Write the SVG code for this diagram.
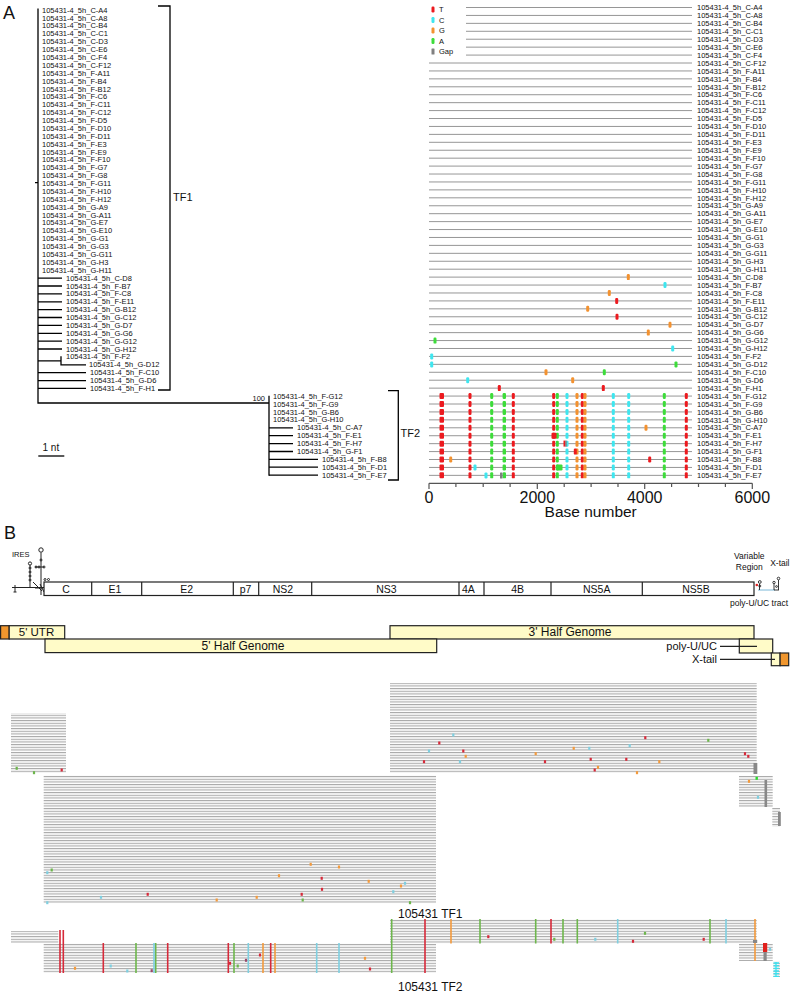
<svg xmlns="http://www.w3.org/2000/svg" width="790" height="994" viewBox="0 0 790 994">
<style>
text{font-family:"Liberation Sans",Arial,sans-serif;fill:#111}
.l{font-size:7.5px}
.g{font-size:10.5px}
.big{font-size:18px}
.tr{stroke:#000;stroke-width:1.3;fill:none}
.al{stroke:#8a8a8a;stroke-width:0.9;fill:none}
.R{fill:#ec1a1f}.C{fill:#3fe6ef}.O{fill:#f39230}.G{fill:#3ddc3a}.Y{fill:#808080}
.r{fill:#d62a3a}.c{fill:#7fcfe0}.o{fill:#f39a3c}.gg{fill:#6db64c}.y{fill:#888}.p{fill:#9a4a6a}
.vr{stroke:#d62a3a;stroke-width:1.6}.vc{stroke:#7fcfe0;stroke-width:1.6}.vo{stroke:#f39a3c;stroke-width:1.6}.vg{stroke:#6db64c;stroke-width:1.6}
.box{stroke:#222;stroke-width:1.2}
</style>
<defs>
<pattern id="rl" width="8" height="2.667" patternUnits="userSpaceOnUse"><rect width="8" height="1.1" fill="#a8a8a8"/></pattern>
<g id="tf2m">
<rect class="R" x="439.5" y="-3" width="4.5" height="6" rx="1"/>
<rect class="R" x="468.5" y="-3" width="3" height="6" rx="1.2"/>
<rect class="G" x="490.2" y="-3" width="3" height="6" rx="1.2"/>
<rect class="G" x="502.6" y="-3" width="3.4" height="6" rx="1.2"/>
<rect class="R" x="511.8" y="-3" width="3" height="6" rx="1.2"/>
<rect class="R" x="552.2" y="-3" width="3" height="6" rx="1.2"/>
<rect class="G" x="555.8" y="-3" width="3" height="6" rx="1.2"/>
<rect class="C" x="565.5" y="-3" width="3" height="6" rx="1.2"/>
<rect class="O" x="575.5" y="-3" width="3" height="6" rx="1.2"/>
<rect class="R" x="580.8" y="-3" width="3" height="6" rx="1.2"/>
<rect class="O" x="583.5" y="-3" width="3" height="6" rx="1.2"/>
<rect class="C" x="611.8" y="-3" width="3" height="6" rx="1.2"/>
<rect class="C" x="627.2" y="-3" width="3" height="6" rx="1.2"/>
<rect class="G" x="662.8" y="-3" width="3" height="6" rx="1.2"/>
<rect class="R" x="684.8" y="-3" width="3" height="6" rx="1.2"/>
</g>
</defs>
<rect width="790" height="994" fill="#fff"/>

<text class="big" x="3" y="19">A</text>

<!-- Tree -->
<g id="tree-connectors" class="tr">
<path d="M38 8.5V403.6M37.4 403H269.6M269 395.7V475.7M35 182.7H38"/>
<path d="M38 278.1H62M38 286H62M38 293.9H62M38 301.8H62M38 309.6H62M38 317.5H62M38 325.4H62M38 333.3H62M38 341.2H62M38 349H62"/>
<path d="M38 360.8H61M61 356.3V365.4M61 364.8H86M38 372.7H86M38 380.6H86M38 388.4H86"/>
<path d="M269 427.8H293M269 435.7H293M269 443.6H293M269 451.5H293M269 459.4H318M269 467.2H318M269 475.1H318"/>
</g>
<g id="tf1-bracket" class="tr"><path d="M158 6H170V390H158"/></g>
<g id="tf2-bracket" class="tr"><path d="M388 390.7H398.3V480H388"/></g>
<text x="173" y="200.6" style="font-size:11px">TF1</text>
<text x="400.5" y="437" style="font-size:11px">TF2</text>
<text class="l" x="265" y="401" text-anchor="end">100</text>
<g id="scale"><path class="tr" d="M38.3 456H64.3"/><text x="42.5" y="451" style="font-size:10px">1 nt</text></g>

<g id="tree-labels" class="l">
<text x="42" y="12.7">105431-4_5h_C-A4</text>
<text x="42" y="20.58">105431-4_5h_C-A8</text>
<text x="42" y="28.46">105431-4_5h_C-B4</text>
<text x="42" y="36.34">105431-4_5h_C-C1</text>
<text x="42" y="44.22">105431-4_5h_C-D3</text>
<text x="42" y="52.1">105431-4_5h_C-E6</text>
<text x="42" y="59.98">105431-4_5h_C-F4</text>
<text x="42" y="67.86">105431-4_5h_C-F12</text>
<text x="42" y="75.74">105431-4_5h_F-A11</text>
<text x="42" y="83.62">105431-4_5h_F-B4</text>
<text x="42" y="91.5">105431-4_5h_F-B12</text>
<text x="42" y="99.38">105431-4_5h_F-C6</text>
<text x="42" y="107.26">105431-4_5h_F-C11</text>
<text x="42" y="115.14">105431-4_5h_F-C12</text>
<text x="42" y="123.02">105431-4_5h_F-D5</text>
<text x="42" y="130.9">105431-4_5h_F-D10</text>
<text x="42" y="138.78">105431-4_5h_F-D11</text>
<text x="42" y="146.66">105431-4_5h_F-E3</text>
<text x="42" y="154.54">105431-4_5h_F-E9</text>
<text x="42" y="162.42">105431-4_5h_F-F10</text>
<text x="42" y="170.3">105431-4_5h_F-G7</text>
<text x="42" y="178.18">105431-4_5h_F-G8</text>
<text x="42" y="186.06">105431-4_5h_F-G11</text>
<text x="42" y="193.94">105431-4_5h_F-H10</text>
<text x="42" y="201.82">105431-4_5h_F-H12</text>
<text x="42" y="209.7">105431-4_5h_G-A9</text>
<text x="42" y="217.58">105431-4_5h_G-A11</text>
<text x="42" y="225.46">105431-4_5h_G-E7</text>
<text x="42" y="233.34">105431-4_5h_G-E10</text>
<text x="42" y="241.22">105431-4_5h_G-G1</text>
<text x="42" y="249.1">105431-4_5h_G-G3</text>
<text x="42" y="256.98">105431-4_5h_G-G11</text>
<text x="42" y="264.86">105431-4_5h_G-H3</text>
<text x="42" y="272.74">105431-4_5h_G-H11</text>
<text x="66" y="280.62">105431-4_5h_C-D8</text>
<text x="66" y="288.5">105431-4_5h_F-B7</text>
<text x="66" y="296.38">105431-4_5h_F-C8</text>
<text x="66" y="304.26">105431-4_5h_F-E11</text>
<text x="66" y="312.14">105431-4_5h_G-B12</text>
<text x="66" y="320.02">105431-4_5h_G-C12</text>
<text x="66" y="327.9">105431-4_5h_G-D7</text>
<text x="66" y="335.78">105431-4_5h_G-G6</text>
<text x="66" y="343.66">105431-4_5h_G-G12</text>
<text x="66" y="351.54">105431-4_5h_G-H12</text>
<text x="66" y="359.42">105431-4_5h_F-F2</text>
<text x="89" y="367.3">105431-4_5h_G-D12</text>
<text x="90" y="375.18">105431-4_5h_F-C10</text>
<text x="90" y="383.06">105431-4_5h_G-D6</text>
<text x="90" y="390.94">105431-4_5h_F-H1</text>
<text x="273" y="398.82">105431-4_5h_F-G12</text>
<text x="273" y="406.7">105431-4_5h_F-G9</text>
<text x="273" y="414.58">105431-4_5h_G-B6</text>
<text x="273" y="422.46">105431-4_5h_G-H10</text>
<text x="297" y="430.34">105431-4_5h_C-A7</text>
<text x="297" y="438.22">105431-4_5h_F-E1</text>
<text x="297" y="446.1">105431-4_5h_F-H7</text>
<text x="297" y="453.98">105431-4_5h_G-F1</text>
<text x="322" y="461.86">105431-4_5h_F-B8</text>
<text x="322" y="469.74">105431-4_5h_F-D1</text>
<text x="322" y="477.62">105431-4_5h_F-E7</text>
</g>

<!-- Alignment plot -->
<g id="align-lines" class="al">
<path d="M429 7.5H692M429 15.43H692M429 23.36H692M429 31.29H692M429 39.22H692M429 47.15H692M429 55.08H692M429 63.01H692M429 70.94H692M429 78.87H692M429 86.8H692M429 94.73H692M429 102.66H692M429 110.59H692M429 118.52H692M429 126.45H692M429 134.38H692M429 142.31H692M429 150.24H692M429 158.17H692M429 166.1H692M429 174.03H692M429 181.96H692M429 189.89H692M429 197.82H692M429 205.75H692M429 213.68H692M429 221.61H692M429 229.54H692M429 237.47H692M429 245.4H692M429 253.33H692M429 261.26H692M429 269.19H692M429 277.12H692M429 285.05H692M429 292.98H692M429 300.91H692M429 308.84H692M429 316.77H692M429 324.7H692M429 332.63H692M429 340.56H692M429 348.49H692M429 356.42H692M429 364.35H692M429 372.28H692M429 380.21H692M429 388.14H692M429 396.07H692M429 404H692M429 411.93H692M429 419.86H692M429 427.79H692M429 435.72H692M429 443.65H692M429 451.58H692M429 459.51H692M429 467.44H692M429 475.37H692"/>
</g>
<g id="legend">
<rect x="428" y="2" width="38" height="55" fill="#fff"/>
<rect class="R" x="431.5" y="6.5" width="3" height="6" rx="1.2"/><text class="l" x="439" y="12">T</text>
<rect class="C" x="431.5" y="17" width="3" height="6" rx="1.2"/><text class="l" x="439" y="22.5">C</text>
<rect class="O" x="431.5" y="27.5" width="3" height="6" rx="1.2"/><text class="l" x="439" y="33">G</text>
<rect class="G" x="431.5" y="38" width="3" height="6" rx="1.2"/><text class="l" x="439" y="43.5">A</text>
<rect class="Y" x="431.5" y="48.5" width="3" height="6" rx="0.5"/><text class="l" x="439" y="54">Gap</text>
</g>
<g id="align-markers">
<rect class="O" x="626.8" y="274.1" width="3" height="6" rx="1.2"/>
<rect class="C" x="663.5" y="282" width="3" height="6" rx="1.2"/>
<rect class="O" x="607.8" y="290" width="3" height="6" rx="1.2"/>
<rect class="R" x="615.2" y="297.9" width="3" height="6" rx="1.2"/>
<rect class="O" x="586.2" y="305.8" width="3" height="6" rx="1.2"/>
<rect class="R" x="615.5" y="313.8" width="3" height="6" rx="1.2"/>
<rect class="O" x="668.5" y="321.7" width="3" height="6" rx="1.2"/>
<rect class="O" x="646.8" y="329.6" width="3" height="6" rx="1.2"/>
<rect class="G" x="433.5" y="337.6" width="3" height="6" rx="1.2"/>
<rect class="C" x="671.2" y="345.5" width="3" height="6" rx="1.2"/>
<rect class="C" x="430.2" y="353.4" width="3" height="6" rx="1.2"/>
<rect class="C" x="430.2" y="361.4" width="3" height="6" rx="1.2"/>
<rect class="G" x="674.5" y="361.4" width="3" height="6" rx="1.2"/>
<rect class="O" x="544.5" y="369.3" width="3" height="6" rx="1.2"/>
<rect class="G" x="602.8" y="369.3" width="3" height="6" rx="1.2"/>
<rect class="C" x="466.2" y="377.2" width="3" height="6" rx="1.2"/>
<rect class="O" x="571.2" y="377.2" width="3" height="6" rx="1.2"/>
<rect class="R" x="497.8" y="385.1" width="3" height="6" rx="1.2"/>
<rect class="R" x="601.8" y="385.1" width="3" height="6" rx="1.2"/>
<use href="#tf2m" y="396.07"/>
<use href="#tf2m" y="404"/>
<use href="#tf2m" y="411.93"/>
<use href="#tf2m" y="419.86"/>
<use href="#tf2m" y="427.79"/>
<use href="#tf2m" y="435.72"/>
<use href="#tf2m" y="443.65"/>
<use href="#tf2m" y="451.58"/>
<use href="#tf2m" y="459.51"/>
<use href="#tf2m" y="467.44"/>
<use href="#tf2m" y="475.37"/>
<rect class="O" x="644.5" y="424.8" width="3" height="6" rx="1.2"/>
<rect class="R" x="551.5" y="432.7" width="5" height="6" rx="1"/>
<rect class="R" x="563.5" y="440.6" width="2" height="6"/>
<rect class="Y" x="565.3" y="440.6" width="1.4" height="6"/>
<rect class="R" x="573.8" y="448.6" width="3" height="6" rx="1.2"/>
<rect class="O" x="449.2" y="456.5" width="3" height="6" rx="1.2"/>
<rect class="R" x="648.2" y="456.5" width="3" height="6" rx="1.2"/>
<rect class="C" x="473.5" y="464.4" width="3" height="6" rx="1.2"/>
<rect class="G" x="556.5" y="464.4" width="6" height="6" rx="1.2"/>
<rect class="C" x="484.5" y="472.4" width="3" height="6" rx="1.2"/>
<rect class="Y" x="500" y="472.4" width="2.5" height="6" rx="0.5"/>
</g>
<g id="align-labels" class="l">
<text x="697" y="10.2">105431-4_5h_C-A4</text>
<text x="697" y="18.13">105431-4_5h_C-A8</text>
<text x="697" y="26.06">105431-4_5h_C-B4</text>
<text x="697" y="33.99">105431-4_5h_C-C1</text>
<text x="697" y="41.92">105431-4_5h_C-D3</text>
<text x="697" y="49.85">105431-4_5h_C-E6</text>
<text x="697" y="57.78">105431-4_5h_C-F4</text>
<text x="697" y="65.71">105431-4_5h_C-F12</text>
<text x="697" y="73.64">105431-4_5h_F-A11</text>
<text x="697" y="81.57">105431-4_5h_F-B4</text>
<text x="697" y="89.5">105431-4_5h_F-B12</text>
<text x="697" y="97.43">105431-4_5h_F-C6</text>
<text x="697" y="105.36">105431-4_5h_F-C11</text>
<text x="697" y="113.29">105431-4_5h_F-C12</text>
<text x="697" y="121.22">105431-4_5h_F-D5</text>
<text x="697" y="129.15">105431-4_5h_F-D10</text>
<text x="697" y="137.08">105431-4_5h_F-D11</text>
<text x="697" y="145.01">105431-4_5h_F-E3</text>
<text x="697" y="152.94">105431-4_5h_F-E9</text>
<text x="697" y="160.87">105431-4_5h_F-F10</text>
<text x="697" y="168.8">105431-4_5h_F-G7</text>
<text x="697" y="176.73">105431-4_5h_F-G8</text>
<text x="697" y="184.66">105431-4_5h_F-G11</text>
<text x="697" y="192.59">105431-4_5h_F-H10</text>
<text x="697" y="200.52">105431-4_5h_F-H12</text>
<text x="697" y="208.45">105431-4_5h_G-A9</text>
<text x="697" y="216.38">105431-4_5h_G-A11</text>
<text x="697" y="224.31">105431-4_5h_G-E7</text>
<text x="697" y="232.24">105431-4_5h_G-E10</text>
<text x="697" y="240.17">105431-4_5h_G-G1</text>
<text x="697" y="248.1">105431-4_5h_G-G3</text>
<text x="697" y="256.03">105431-4_5h_G-G11</text>
<text x="697" y="263.96">105431-4_5h_G-H3</text>
<text x="697" y="271.89">105431-4_5h_G-H11</text>
<text x="697" y="279.82">105431-4_5h_C-D8</text>
<text x="697" y="287.75">105431-4_5h_F-B7</text>
<text x="697" y="295.68">105431-4_5h_F-C8</text>
<text x="697" y="303.61">105431-4_5h_F-E11</text>
<text x="697" y="311.54">105431-4_5h_G-B12</text>
<text x="697" y="319.47">105431-4_5h_G-C12</text>
<text x="697" y="327.4">105431-4_5h_G-D7</text>
<text x="697" y="335.33">105431-4_5h_G-G6</text>
<text x="697" y="343.26">105431-4_5h_G-G12</text>
<text x="697" y="351.19">105431-4_5h_G-H12</text>
<text x="697" y="359.12">105431-4_5h_F-F2</text>
<text x="697" y="367.05">105431-4_5h_G-D12</text>
<text x="697" y="374.98">105431-4_5h_F-C10</text>
<text x="697" y="382.91">105431-4_5h_G-D6</text>
<text x="697" y="390.84">105431-4_5h_F-H1</text>
<text x="697" y="398.77">105431-4_5h_F-G12</text>
<text x="697" y="406.7">105431-4_5h_F-G9</text>
<text x="697" y="414.63">105431-4_5h_G-B6</text>
<text x="697" y="422.56">105431-4_5h_G-H10</text>
<text x="697" y="430.49">105431-4_5h_C-A7</text>
<text x="697" y="438.42">105431-4_5h_F-E1</text>
<text x="697" y="446.35">105431-4_5h_F-H7</text>
<text x="697" y="454.28">105431-4_5h_G-F1</text>
<text x="697" y="462.21">105431-4_5h_F-B8</text>
<text x="697" y="470.14">105431-4_5h_F-D1</text>
<text x="697" y="478.07">105431-4_5h_F-E7</text>
</g>
<g id="axis">
<path stroke="#555" stroke-width="1.2" fill="none" d="M429 483.3H752.3M429 483.3V489M537.3 483.3V489M644.7 483.3V489M752.3 483.3V489M455.9 483.3V487M483.2 483.3V487M510.1 483.3V487M564.2 483.3V487M591.1 483.3V487M618 483.3V487M671.6 483.3V487M698.5 483.3V487M725.4 483.3V487"/>
<text x="429" y="502.5" text-anchor="middle" style="font-size:16px">0</text>
<text x="537.3" y="502.5" text-anchor="middle" style="font-size:16px">2000</text>
<text x="644.7" y="502.5" text-anchor="middle" style="font-size:16px">4000</text>
<text x="752.3" y="502.5" text-anchor="middle" style="font-size:16px">6000</text>
<text x="590.7" y="517" text-anchor="middle" style="font-size:15.5px">Base number</text>
</g>

<!-- Part B -->
<text class="big" x="4" y="539">B</text>
<g id="ires" stroke="#222" stroke-width="1" fill="none">
<path d="M12 587.5H44M15 585V592M13.5 592H16.5M30 565V587.5M41 552.5V595M35 567H44M33 582L42 591M35 588H43M40 584L44 592"/>
<circle cx="30" cy="563.5" r="1.6"/><circle cx="30" cy="568" r="1"/><circle cx="30" cy="572" r="1"/><circle cx="30" cy="576" r="1"/><circle cx="30" cy="580" r="1"/>
<circle cx="41" cy="550" r="2.2"/><circle cx="36" cy="567" r="1"/><circle cx="39" cy="567" r="1"/><circle cx="44" cy="567" r="1"/><circle cx="41" cy="560" r="1"/>
<circle cx="45" cy="579.5" r="1"/><circle cx="48.5" cy="579.5" r="1"/>
</g>
<text x="12" y="557" style="font-size:7.5px">IRES</text>
<g id="genome">
<rect x="44" y="582" width="710" height="13.5" fill="#fff" class="box"/>
<path class="box" d="M91.7 582V595.5M141.7 582V595.5M233.3 582V595.5M258.7 582V595.5M311.7 582V595.5M459 582V595.5M484 582V595.5M551 582V595.5M642.3 582V595.5"/>
<g class="g" text-anchor="middle">
<text x="66" y="592.8">C</text><text x="115" y="592.8">E1</text><text x="186.7" y="592.8">E2</text><text x="245.5" y="592.8">p7</text><text x="283" y="592.8">NS2</text><text x="386.5" y="592.8">NS3</text><text x="468.3" y="592.8">4A</text><text x="517.7" y="592.8">4B</text><text x="596.7" y="592.8">NS5A</text><text x="696" y="592.8">NS5B</text>
</g>
</g>
<g id="end3">
<path d="M758 590H775" stroke="#7ab8d8" stroke-width="1"/>
<circle cx="756.8" cy="585" r="1.3" fill="#d22"/>
<g stroke="#222" stroke-width="0.9" fill="none">
<path d="M759.5 590V584M774 590V584M778.5 590V580M774 590H779"/>
<circle cx="759.8" cy="582" r="1.4"/><circle cx="759.8" cy="586" r="1"/><circle cx="774" cy="582.5" r="1.2"/><circle cx="778.5" cy="578.5" r="1.3"/><circle cx="776.5" cy="586.5" r="0.9"/>
</g>
</g>
<g style="font-size:8.5px" text-anchor="middle">
<text x="749.3" y="559">Variable</text>
<text x="749.3" y="569.8">Region</text>
<text x="789.5" y="565.5" text-anchor="end">X-tail</text>
<text x="759" y="606.3">poly-U/UC tract</text>
</g>

<g id="segments">
<rect x="0.6" y="625.7" width="8.6" height="13.3" fill="#f0962e" class="box"/>
<g id="seg-5utr"><rect x="9.2" y="625.7" width="55.5" height="13.3" fill="#fffbc8" class="box"/><text x="36.5" y="636.3" text-anchor="middle" style="font-size:11.5px">5' UTR</text></g>
<g id="seg-3half"><rect x="390" y="625.7" width="364" height="13.3" fill="#fffbc8" class="box"/><text x="570" y="636.3" text-anchor="middle" style="font-size:12px">3' Half Genome</text></g>
<g id="seg-5half"><rect x="45" y="639" width="391.7" height="13.6" fill="#fffbc8" class="box"/><text x="243" y="650.3" text-anchor="middle" style="font-size:12px">5' Half Genome</text></g>
<g id="seg-polyu"><rect x="739.3" y="639" width="33.4" height="14" fill="#fffbc8" class="box"/><path d="M720 646.3H757" stroke="#222" stroke-width="1.2"/><text x="717" y="650.3" text-anchor="end" style="font-size:11px">poly-U/UC</text></g>
<g id="seg-xtail"><rect x="771.3" y="653" width="8.8" height="12.7" fill="#fffbc8" class="box"/><rect x="780.1" y="653" width="8.6" height="12.7" fill="#f0962e" class="box"/><path d="M720 659.3H775" stroke="#222" stroke-width="1.2"/><text x="717" y="663.2" text-anchor="end" style="font-size:11px">X-tail</text></g>
</g>

<g id="reads-tf1" fill="url(#rl)">
<rect x="11" y="713" width="55" height="60"/>
<rect x="43.7" y="775" width="392.3" height="128.3"/>
<rect x="390" y="683" width="366.7" height="90"/>
<rect x="739" y="776" width="33.7" height="31"/>
<rect x="772.3" y="808" width="7.7" height="18.7"/>
</g>
<g id="marks-tf1">
<rect class="gg" x="15.6" y="766.8" width="2.2" height="3"/>
<rect class="gg" x="32.9" y="771.2" width="2.2" height="3"/>
<rect class="r" x="60.6" y="768.5" width="2.2" height="3"/>
<rect class="c" x="46.2" y="871.2" width="2.2" height="3"/>
<rect class="gg" x="50.6" y="868.5" width="2.2" height="3"/>
<rect class="o" x="309.6" y="862.8" width="2.2" height="3"/>
<rect class="o" x="337.9" y="865.5" width="2.2" height="3"/>
<rect class="o" x="277.9" y="874.2" width="2.2" height="3"/>
<rect class="r" x="320.6" y="876.8" width="2.2" height="3"/>
<rect class="o" x="367.6" y="879.8" width="2.2" height="3"/>
<rect class="r" x="320.9" y="887.8" width="2.2" height="3"/>
<rect class="c" x="392.2" y="890.2" width="2.2" height="3"/>
<rect class="o" x="399.9" y="884.5" width="2.2" height="3"/>
<rect class="c" x="403.9" y="881.8" width="2.2" height="3"/>
<rect class="r" x="146.6" y="892.8" width="2.2" height="3"/>
<rect class="r" x="300.6" y="892.8" width="2.2" height="3"/>
<rect class="c" x="99.9" y="895.8" width="2.2" height="3"/>
<rect class="o" x="255.6" y="895.8" width="2.2" height="3"/>
<rect class="o" x="215.6" y="898.5" width="2.2" height="3"/>
<rect class="gg" x="301.6" y="898.5" width="2.2" height="3"/>
<rect class="c" x="46.2" y="901.2" width="2.2" height="3"/>
<rect class="gg" x="408.9" y="901.2" width="2.2" height="3"/>
<rect class="c" x="452.2" y="733.5" width="2.2" height="3"/>
<rect class="r" x="644.2" y="736.2" width="2.2" height="3"/>
<rect class="gg" x="707.2" y="738.8" width="2.2" height="3"/>
<rect class="r" x="438.2" y="741.5" width="2.2" height="3"/>
<rect class="c" x="628.6" y="744.2" width="2.2" height="3"/>
<rect class="o" x="572.6" y="746.8" width="2.2" height="3"/>
<rect class="c" x="588.2" y="746.8" width="2.2" height="3"/>
<rect class="c" x="427.9" y="749.5" width="2.2" height="3"/>
<rect class="r" x="462.2" y="749.5" width="2.2" height="3"/>
<rect class="o" x="534.6" y="752.2" width="2.2" height="3"/>
<rect class="r" x="743.9" y="752.2" width="2.2" height="3"/>
<rect class="o" x="464.6" y="754.8" width="2.2" height="3"/>
<rect class="r" x="747.2" y="754.8" width="2.2" height="3"/>
<rect class="r" x="589.6" y="757.8" width="2.2" height="3"/>
<rect class="r" x="625.2" y="757.8" width="2.2" height="3"/>
<rect class="c" x="458.9" y="760.2" width="2.2" height="3"/>
<rect class="r" x="422.9" y="760.2" width="2.2" height="3"/>
<rect class="r" x="543.9" y="760.2" width="2.2" height="3"/>
<rect class="o" x="658.2" y="760.2" width="2.2" height="3"/>
<rect class="o" x="596.9" y="765.8" width="2.2" height="3"/>
<rect class="r" x="593.6" y="768.5" width="2.2" height="3"/>
<rect class="o" x="635.9" y="771.2" width="2.2" height="3"/>
<rect class="y" x="753.5" y="763" width="3.8" height="11"/>
<rect x="755.5" y="776.8" width="2.4" height="3" fill="#2bdc2b"/>
<rect class="o" x="747.9" y="779.8" width="2.2" height="3"/>
<rect class="c" x="756.9" y="795.8" width="2.2" height="3"/>
<rect class="y" x="764.5" y="780" width="2.6" height="27"/>
<rect class="y" x="778" y="812" width="2.8" height="14"/>
</g>
<text x="398" y="917.5" style="font-size:12px">105431 TF1</text>

<g id="reads-tf2" fill="url(#rl)">
<rect x="11" y="931" width="47.3" height="12"/>
<rect x="43.7" y="943.5" width="392.3" height="29.5"/>
<rect x="390" y="919" width="366.7" height="24.5"/>
<rect x="739" y="944" width="33.7" height="17"/>
<rect x="773.3" y="961.5" width="6.7" height="15.5"/>
</g>
<g id="marks-tf2">
<path class="vr" d="M60 930V973M63.3 930V973M103.3 943V973M167.7 943V973M228.3 943V973M270.7 943V973M425 919V973M551 919V943.5"/>
<path class="vg" d="M136 943V973M155.7 943V973M234 943V973M391.7 919V973M480 919V943.5M535.7 919V943.5M563 919V943.5M577.3 919V943.5M710 919V943.5"/>
<path class="vc" d="M154 943V973M248.3 943V973M316.7 943V973M339 943V973M617.7 919V943.5M726 919V943.5"/>
<path class="vo" d="M263 943V973M275 943V973M451 919V943.5M755 919V961"/>
<rect class="o" x="73.9" y="966.8" width="2.2" height="3"/>
<rect class="c" x="109.6" y="964.5" width="2.2" height="3"/>
<rect class="c" x="126.2" y="969.5" width="2.2" height="3"/>
<rect class="p" x="150.6" y="969.2" width="2.2" height="3"/>
<rect class="r" x="228.9" y="961.8" width="2.2" height="3"/>
<rect class="gg" x="236.6" y="964.5" width="2.2" height="3"/>
<rect class="p" x="244.9" y="958.8" width="2.2" height="3"/>
<rect class="r" x="258.9" y="953.5" width="2.2" height="3"/>
<rect class="o" x="363.9" y="956.8" width="2.2" height="3"/>
<rect class="r" x="368.9" y="967.5" width="2.2" height="3"/>
<rect class="r" x="487.2" y="935.2" width="2.2" height="3"/>
<rect class="gg" x="553.2" y="937.8" width="2.2" height="3"/>
<rect class="c" x="594.2" y="937.8" width="2.2" height="3"/>
<rect class="r" x="631.9" y="939.8" width="2.2" height="3"/>
<rect class="gg" x="643.9" y="931.8" width="2.2" height="3"/>
<rect class="r" x="702.6" y="937.8" width="2.2" height="3"/>
<rect class="y" x="753" y="940" width="4.2" height="3"/>
<rect x="763" y="943" width="4.2" height="9" fill="#e0201c"/>
<rect class="y" x="763.5" y="952" width="3.2" height="9"/>
<rect class="c" x="768.9" y="947.8" width="2.2" height="3"/>
<path d="M776 962V977M773.5 963H779M773.5 965.7H779M773.5 968.3H779M773.5 971H779M773.5 973.7H779M773.5 976.3H779" stroke="#3ee0ee" stroke-width="1.3"/>
</g>
<text x="398" y="991" style="font-size:12px">105431 TF2</text>
</svg>
